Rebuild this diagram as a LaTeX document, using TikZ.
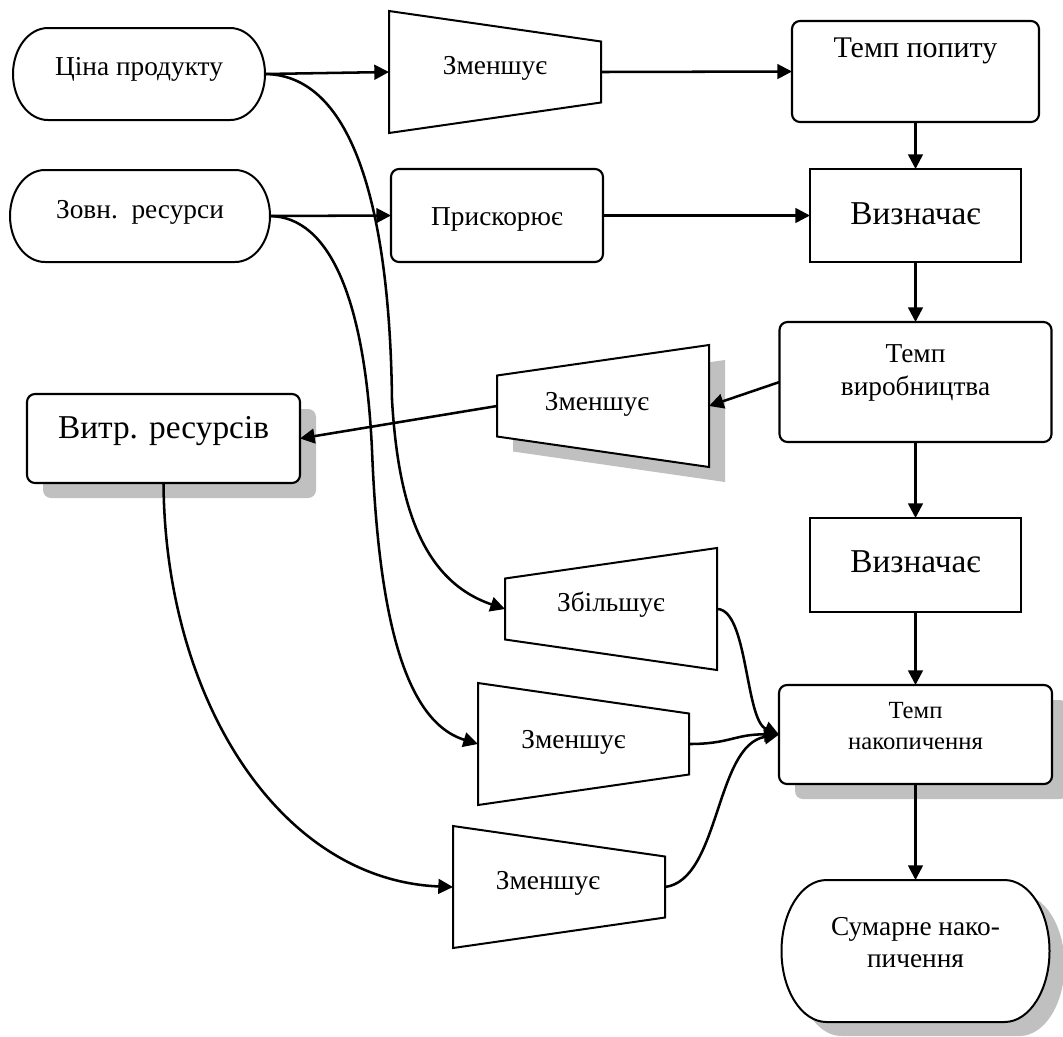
\documentclass[tikz,border=0pt]{standalone}
\usepackage{fontspec}
\setmainfont{Liberation Serif}
\usetikzlibrary{arrows.meta}
\pgfdeclarelayer{back}
\pgfsetlayers{back,main}
\definecolor{shadowgray}{RGB}{192,192,192}

% pill outline with elliptic ends around an invisible node: #2 node, #3 x radius, #4 y radius
\newcommand{\pilloutline}[4][]{%
  \path[#1] ([xshift=#3]#2.north west) -- ([xshift=-#3]#2.north east)
    arc[start angle=90, end angle=-90, x radius=#3, y radius=#4]
    -- ([xshift=#3]#2.south west)
    arc[start angle=270, end angle=90, x radius=#3, y radius=#4] -- cycle;}
% trapezoid, tall side on the left
\newcommand{\trapleft}[2][]{%
  \path[#1] (#2.north west) -- ([yshift=-22.875pt]#2.north east)
    -- ([yshift=22.875pt]#2.south east) -- (#2.south west) -- cycle;}
% trapezoid, tall side on the right
\newcommand{\trapright}[2][]{%
  \path[#1] (#2.north east) -- (#2.south east)
    -- ([yshift=22.875pt]#2.south west) -- ([yshift=-22.875pt]#2.north west) -- cycle;}
% two centred lines, baseline on the first one
\newcommand{\twolines}[2]{\begin{tabular}[t]{@{}c@{}}#1\\#2\end{tabular}}

\begin{document}
\begin{tikzpicture}[x=0.75pt, y=-0.75pt,
  fnorm/.style={font=\fontsize{20.5}{24.75}\selectfont},
  fbig/.style={font=\fontsize{25}{30}\selectfont},
  slot/.style={inner sep=0pt, outer sep=0pt, minimum width=159pt, minimum height=91.5pt, fnorm},
  cbox/.style={draw, line width=1.6pt, fill=white, inner sep=0pt, outer sep=0pt},
  rbox/.style={cbox, rounded corners=6pt},
  shadowed/.style={preaction={fill=shadowgray, draw=none,
      transform canvas={xshift=12pt, yshift=-11.25pt}}},
  outl/.style={draw, line width=1.5pt, fill=white},
  link/.style={line width=1.9pt},
  arr/.style={link, -{Triangle[length=11pt, width=11pt]}}]
\useasboundingbox (0,0) rectangle (1063,1036);

% sources
\node[slot, minimum width=189pt, minimum height=69pt, text height=1.5pt, text depth=0pt]
  (cena) at (139,74) {Ціна продукту};
\node[slot, minimum width=195pt, minimum height=69pt, text height=3pt, text depth=0pt]
  (zovn) at (140,216) {Зовн.\ \ ресурси};

% modifiers
\node[slot, text height=3pt, text depth=0pt] (z1) at (495,72) {Зменшує};
\node[rbox, fnorm, minimum width=159pt, minimum height=69.75pt, text height=14.25pt, text depth=0pt]
  (prysk) at (497,215.5) {Прискорює};
\node[slot, text height=6pt, text depth=0pt] (z2) at (603,406) {\hspace*{-9pt}Зменшує};
\node[slot, text height=3pt, text depth=0pt] (z3) at (611,609) {Збільшує};
\node[slot, minimum width=158.25pt, text height=6pt, text depth=0pt] (z4) at (583.5,744) {\hspace*{-15pt}Зменшує};
\node[slot, text height=3pt, text depth=0pt] (z5) at (559,887) {\hspace*{-16.5pt}Зменшує};

% main chain
\node[rbox, font=\fontsize{22.5}{27}\selectfont, minimum width=185.25pt, minimum height=75.75pt,
  text height=0pt, text depth=21.75pt] (popyt) at (915.5,71.5) {Темп попиту};
\node[cbox, fbig, minimum width=158.25pt, minimum height=69.75pt, text height=12.75pt, text depth=0pt]
  (vyzn1) at (915.5,215.5) {Визначає};
\node[rbox, fnorm, minimum width=204pt, minimum height=90pt, text height=0pt, text depth=30pt]
  (vyrob) at (915.5,382) {\twolines{Темп}{виробництва}};
\node[rbox, shadowed, fbig, minimum width=204.75pt, minimum height=66.75pt, text height=0pt, text depth=0.75pt]
  (vytr) at (163.5,438.5) {Витр. ресурсів};
\node[cbox, fbig, minimum width=158.25pt, minimum height=70.5pt, text height=10.5pt, text depth=0pt]
  (vyzn2) at (915.5,565) {Визначає};
\node[rbox, shadowed, font=\fontsize{18.5}{23.25}\selectfont, minimum width=204.75pt, minimum height=74.25pt,
  text height=0pt, text depth=24.75pt] (nakop) at (915.5,734.5) {\twolines{Темп}{накопичення}};
\node[slot, font=\fontsize{20.5}{24}\selectfont, minimum width=201pt, minimum height=106.5pt,
  text height=0pt, text depth=24pt] (sum) at (915.5,951) {\twolines{Сумарне нако-}{пичення}};

% outlines and shadows of the shaped blocks
\begin{pgfonlayer}{back}
  \fill[white] (0,0) rectangle (1063,1036);
  \pilloutline[outl]{cena}{26.25pt}{34.5pt}
  \pilloutline[outl]{zovn}{26.25pt}{34.5pt}
  \pilloutline[fill=shadowgray, transform canvas={xshift=11.25pt, yshift=-10.5pt}]{sum}{33.75pt}{53.25pt}
  \pilloutline[outl]{sum}{33.75pt}{53.25pt}
  \trapleft[outl]{z1}
  \trapright[fill=shadowgray, transform canvas={xshift=12pt, yshift=-11.25pt}]{z2}
  \trapright[outl]{z2}
  \trapright[outl]{z3}
  \trapleft[outl]{z4}
  \trapleft[outl]{z5}
\end{pgfonlayer}

% straight connectors
\draw[arr] (cena.east) -- (z1.west);
\draw[arr] (z1.east) -- (popyt.west);
\draw[arr] (zovn.east) -- (prysk.west);
\draw[arr] (prysk.east) -- (vyzn1.west);
\draw[arr] (popyt.south) -- (vyzn1.north);
\draw[arr] (vyzn1.south) -- (vyrob.north);
\draw[arr] (vyrob.west) -- (z2.east);
\draw[arr] (z2.west) -- (vytr.east);
\draw[arr] (vyrob.south) -- (vyzn2.north);
\draw[arr] (vyzn2.south) -- (nakop.north);
\draw[arr] (nakop.south) -- (sum.north);

% curved connectors
\draw[arr] (cena.east) .. controls (360,75) and (390,230) .. (392,400)
  .. controls (398,500) and (420,580) .. (z3.west);
\draw[arr] (zovn.east) .. controls (330,217) and (365,300) .. (372,450)
  .. controls (378,600) and (400,720) .. (z4.west);
\draw[arr] (vytr.south) .. controls (165,700) and (280,880) .. (z5.west);
\draw[arr] (z3.east) .. controls (748,609) and (745,720) .. (nakop.west);
\draw[arr] (z4.east) .. controls (730,744) and (735,734) .. (nakop.west);
\draw[arr] (z5.east) .. controls (720,880) and (715,745) .. (nakop.west);
\end{tikzpicture}
\end{document}
